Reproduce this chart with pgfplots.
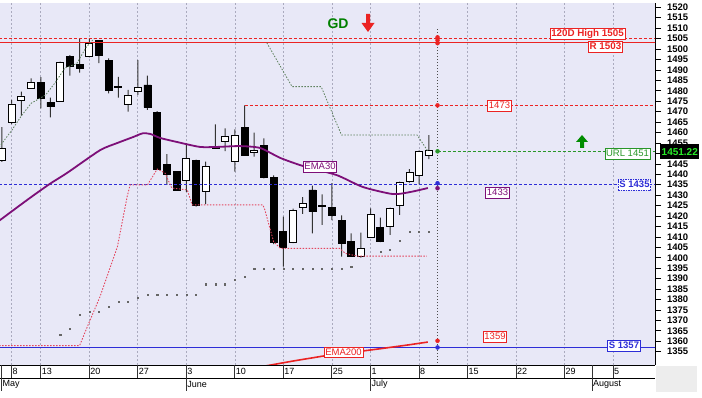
\documentclass[border=0pt]{standalone}
\usepackage{pgfplots}
\pgfplotsset{compat=1.18}
\usepackage{pgfplotstable}
\usepackage{fontspec}
\setmainfont{Liberation Sans}
\definecolor{bgc}{RGB}{232,232,247}
\definecolor{myred}{RGB}{235,35,35}
\definecolor{dotred}{RGB}{228,70,95}
\definecolor{myblue}{RGB}{45,45,215}
\definecolor{mygreen}{RGB}{40,150,40}
\definecolor{mypurple}{RGB}{125,15,120}
\definecolor{gridc}{RGB}{170,170,190}
\definecolor{stopg}{RGB}{95,130,95}

\pgfplotstableread{
i o h l c
0 1446.8 1462.6 1445.9 1452.4
1 1464.7 1475.6 1464.0 1473.7
2 1475.2 1479.6 1468.1 1477.5
3 1481.2 1486.0 1481.0 1484.1
4 1483.9 1486.5 1471.6 1476.4
5 1474.5 1476.7 1467.3 1472.4
6 1475.1 1494.0 1475.0 1493.6
7 1496.3 1497.1 1487.2 1491.9
8 1492.7 1505.1 1488.7 1490.8
9 1496.7 1505.1 1496.0 1502.8
10 1503.9 1504.2 1493.2 1496.8
11 1494.7 1495.5 1478.8 1480.4
12 1481.9 1486.7 1476.7 1481.5
13 1473.5 1480.4 1470.0 1477.6
14 1479.9 1494.7 1478.0 1481.7
15 1482.8 1487.2 1470.8 1472.1
16 1469.7 1470.3 1442.0 1442.5
17 1444.8 1449.6 1434.9 1440.1
18 1441.2 1441.5 1432.0 1432.5
19 1436.9 1454.8 1431.6 1447.6
20 1446.4 1447.0 1424.5 1424.9
21 1431.6 1446.0 1425.7 1443.6
22 1452.9 1463.9 1452.4 1452.6
23 1455.6 1462.0 1451.1 1458.3
24 1446.0 1461.5 1441.2 1458.8
25 1462.3 1473.0 1448.8 1449.2
26 1450.3 1459.9 1448.4 1451.6
27 1454.0 1457.2 1438.0 1438.5
28 1438.5 1439.5 1406.5 1407.2
29 1412.5 1419.7 1395.7 1405.0
30 1407.4 1423.5 1407.0 1422.5
31 1424.0 1429.0 1421.0 1426.1
32 1432.5 1434.5 1411.7 1422.1
33 1425.1 1430.4 1415.7 1424.7
34 1424.2 1435.8 1418.0 1420.5
35 1417.7 1420.3 1400.5 1406.9
36 1407.7 1411.7 1400.5 1400.8
37 1400.5 1412.0 1400.0 1404.5
38 1409.8 1423.7 1409.5 1420.8
39 1414.4 1419.2 1407.5 1407.7
40 1415.2 1424.0 1410.9 1423.7
41 1425.3 1436.5 1420.5 1436.1
42 1436.4 1442.5 1436.0 1440.7
43 1439.3 1451.5 1435.2 1450.8
44 1449.2 1458.8 1447.2 1451.22
}\candles

\pgfplotsset{
  base/.style={
    scale only axis, width=655pt, height=362pt,
    xmin=-0.206, xmax=67.32, ymin=1348.6, ymax=1522.06,
    at={(0pt,-365pt)}, anchor=south west,
  },
}
\tikzset{lab/.style={fill=white, inner sep=1.2pt, line width=0.7pt,
  font=\fontsize{9.5}{11}\selectfont, text height=7pt, text depth=1.5pt}}

\begin{document}
\begin{tikzpicture}[x=1pt,y=1pt]
\fill[white] (0,0) rectangle (702,-398);
\fill[black!7] (656,-366) rectangle (697,-392);
% axis 1: background, grid, y axis
\begin{axis}[base,
  axis background/.style={fill=bgc},
  axis x line=none,
  axis y line*=right,
  ytick={1355,1360,...,1445,1455,1460,...,1520},
  extra y ticks={1450}, extra y tick labels={},
  minor y tick num=1,
  tick align=outside,
  major tick length=6pt, minor tick length=3pt,
  y axis line style={black, line width=0.8pt},
  ytick style={black, line width=0.6pt},
  yticklabel style={font=\bfseries\fontsize{9.5}{10}\selectfont, xshift=2.5pt},
  /pgf/number format/1000 sep={},
  /pgf/number format/assume math mode=true,
]
\addplot[draw=none] coordinates {(0,1400)};
\pgfplotsinvokeforeach{1,4,9,14,19,24,29,34,38,43,48,53,58,63}{
  \draw[gridc, line width=0.6pt, dash pattern=on 2pt off 2pt] (axis cs:#1,1348.6) -- (axis cs:#1,1522.06);
}
\end{axis}
% axis 2: wicks
\begin{axis}[base, hide axis, ybar stacked, bar width=1pt]
\addplot[draw=none, fill=none] table[x=i, y=l] {\candles};
\addplot[draw=none, fill=black!80] table[x=i, y expr={\thisrow{h}-\thisrow{l}}] {\candles};
\end{axis}
% axis 3: bodies
\begin{axis}[base, hide axis, ybar stacked, bar width=7pt]
\addplot[draw=none, fill=none] table[x=i, y expr={min(\thisrow{o},\thisrow{c})}] {\candles};
\addplot[draw=black, fill=white, line width=0.8pt] table[x=i, y expr={max(\thisrow{c}-\thisrow{o},0)}] {\candles};
\addplot[draw=black, fill=black, line width=0.8pt] table[x=i, y expr={max(\thisrow{o}-\thisrow{c},0)}] {\candles};
\end{axis}
% axis 4: indicator lines
\begin{axis}[base, hide axis]
% horizontal levels
\addplot[myred, line width=0.8pt, dash pattern=on 3pt off 2pt] coordinates {(-0.3,1505) (68,1505)};
\addplot[myred, line width=1pt] coordinates {(-0.3,1503) (68,1503)};
\addplot[myred, line width=0.8pt, dash pattern=on 3pt off 2pt] coordinates {(25,1473) (68,1473)};
\addplot[mygreen, line width=0.8pt, dash pattern=on 3pt off 2pt] coordinates {(44.9,1451) (68,1451)};
\addplot[myblue, line width=0.8pt, dash pattern=on 3pt off 2pt] coordinates {(-0.3,1435) (68,1435)};
\addplot[myblue, line width=0.9pt] coordinates {(-0.3,1357) (68,1357)};
% lower stop line (red dotted)
\addplot[dotred, line width=0.9pt, dash pattern=on 1.5pt off 1.5pt] coordinates {
(-0.3,1357.9) (8.0,1357.9) (8.8,1367) (10.1,1381.3) (11.9,1405.3) (12.9,1429.2) (13.2,1434.9)
(15.0,1434.9) (16.0,1442.5) (16.8,1440.6) (17.5,1433.4) (19.1,1432.5) (19.6,1425.3) (26.9,1425.3)
(27.1,1422.9) (28.0,1407.7) (28.7,1404.5) (34.8,1404.5) (35.4,1402.1) (36.6,1400.8) (43.8,1400.8)};
% upper stop line (grey green dotted)
\addplot[stopg, line width=0.8pt, dash pattern=on 1.5pt off 1.5pt] coordinates {
(-0.3,1453) (1,1461) (2,1468) (3,1474) (4.5,1478) (5.5,1484) (6.5,1491) (7.7,1493) (8.7,1501) (9.5,1505)};
\addplot[stopg, line width=0.8pt, dash pattern=on 1.5pt off 1.5pt] coordinates {
(27.3,1503) (29.9,1482) (32.9,1482) (35,1458.8) (42.8,1458.8) (43.9,1451.1)};
% small dots
\addplot[only marks, mark=square*, mark size=0.55pt, color=black!60] coordinates {
(6,1363) (7,1365.9) (8,1372.6) (9,1374.1) (10,1374.1) (11,1376.5) (12,1378.9) (13,1378.9)
(14,1380.9) (15,1382.1) (16,1382.1) (17,1382.1) (18,1382.1) (19,1382.1) (20,1382.1)
(21,1387.3) (22,1387.3) (23,1387.3) (24,1389.3) (25,1390.9) (26,1394.6) (27,1394.6)
(28,1394.6) (29,1394.6) (30,1394.6) (31,1394.6) (32,1394.6) (33,1394.6) (34,1394.6)
(35,1394.6) (36,1395.7) (39,1403) (40,1404) (41,1408.2) (42,1412.5) (43,1412.5) (44,1412.5)};
% EMA30
\addplot[mypurple, line width=1.8pt, smooth, tension=0.4] coordinates {
(-0.3,1417.7) (2.6,1427.7) (4.9,1435.3) (6.7,1440.6) (10.1,1451.5) (11.9,1455) (13.5,1457.8)
(14.5,1459.6) (15.3,1459.3) (16.3,1457.4) (18,1455.5) (20.4,1453.1) (22.2,1453.1) (24.5,1453.5)
(26.6,1452.6) (28.7,1447.8) (31,1444) (34.5,1439.6) (37.2,1433.9) (40.3,1430.5) (42.1,1431.5) (43.9,1433.4)};
% EMA200
\addplot[myred, line width=1.6pt] coordinates {
(27,1348) (30,1350.5) (33,1352.8) (36,1354.6) (39,1356.4) (42,1358.3) (43.9,1359.6)};
% vertical marker line
\addplot[black!70, line width=1.2pt, dash pattern=on 1.2pt off 1.8pt] coordinates {(44.9,1509.6) (44.9,1340)};
\addplot[only marks, mark=*, mark size=2pt, myred] coordinates {(44.9,1505.6) (44.9,1504.2) (44.9,1502.8) (44.9,1473) (44.9,1360.2)};
\addplot[only marks, mark=*, mark size=2pt, mygreen] coordinates {(44.9,1451)};
\addplot[only marks, mark=*, mark size=2pt, mypurple] coordinates {(44.9,1433.3)};
\addplot[only marks, mark=*, mark size=2pt, myblue] coordinates {(44.9,1435.7) (44.9,1357)};
\end{axis}
% labels
\node[lab, draw=myred, text=myred, font=\bfseries\fontsize{9.8}{11}\selectfont] at (587.5,-34) {120D High 1505};
\node[lab, draw=myred, text=myred, font=\bfseries\fontsize{9.8}{11}\selectfont] at (605.5,-47) {R 1503};
\node[lab, draw=myred, text=myred] at (499.5,-106) {1473};
\node[lab, draw=mygreen, text=mygreen] at (627.5,-153.5) {URL 1451};
\node[lab, draw=myblue, text=myblue, dash pattern=on 1.5pt off 1pt, font=\bfseries\fontsize{9.5}{11}\selectfont] at (634.5,-185) {S 1435};
\node[lab, draw=mypurple, text=mypurple] at (497.5,-192.5) {1433};
\node[lab, draw=myred, text=myred] at (495,-337) {1359};
\node[lab, draw=myblue, text=myblue, font=\bfseries\fontsize{9.5}{11}\selectfont] at (624,-345.5) {S 1357};
\node[lab, draw=mypurple, text=mypurple] at (320,-166.7) {EMA30};
\node[lab, draw=myred, text=myred] at (343.5,-352.3) {EMA200};
\node[font=\bfseries\fontsize{14}{14}\selectfont, text=green!50!black] at (338,-24) {GD};
\fill[myred] (366,-14) -- (370,-14) -- (370,-23) -- (374.5,-23) -- (368,-32) -- (361.5,-23) -- (366,-23) -- cycle;
\fill[green!55!black] (582,-135) -- (588,-142) -- (584,-142) -- (584,-148) -- (580,-148) -- (580,-142) -- (576,-142) -- cycle;
\node[fill=black, text={rgb,255:red,40;green,235;blue,40}, font=\bfseries\fontsize{10}{10}\selectfont, inner sep=1.5pt, anchor=west, minimum height=15pt] at (660,-152) {1451.22};
% date band
\draw[black, line width=0.9pt] (0,-365) -- (655,-365);
\draw[black, line width=0.9pt] (0,-378) -- (655,-378);
\foreach \xx in {11.7,40.8,89.3,137.8,234.8,283.3,331.8,419.1,467.6,516.1,564.6,613.1}{
  \draw[black!80, line width=0.7pt] (\xx,-365) -- (\xx,-378);
}
\foreach \xx in {1.7,186.3,370.6,592}{
  \draw[black!80, line width=0.7pt] (\xx,-365) -- (\xx,-391);
}
\foreach \xx/\tt in {11.7/8,40.8/13,89.3/20,137.8/27,186.3/3,234.8/10,283.3/17,331.8/25,370.6/1,419.1/8,467.6/15,516.1/22,564.6/29,613.1/5}{
  \node[anchor=west, inner sep=0.8pt, font=\fontsize{9}{10}\selectfont] at (\xx,-371.5) {\tt};
}
\foreach \xx/\tt in {1.7/May,186.3/June,370.6/July,592/August}{
  \node[anchor=west, inner sep=0.8pt, font=\fontsize{9}{10}\selectfont] at (\xx,-384.5) {\tt};
}
\pgfresetboundingbox
\path[use as bounding box] (0,0) rectangle (702,-398);
\end{tikzpicture}
\end{document}
